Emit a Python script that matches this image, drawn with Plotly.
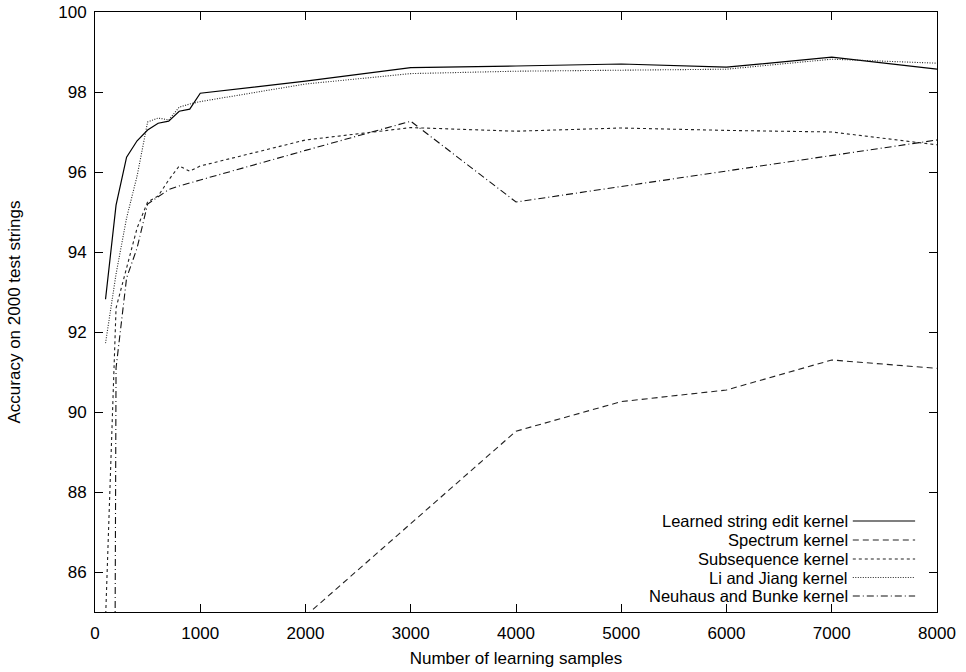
import plotly.graph_objects as go

samples = [100, 200, 300, 400, 500, 600, 700, 800, 900, 1000,
           2000, 3000, 4000, 5000, 6000, 7000, 8000]

learned = [92.82, 95.17, 96.37, 96.78, 97.05, 97.22, 97.27, 97.52, 97.57, 97.97,
           98.27, 98.61, 98.65, 98.70, 98.62, 98.87, 98.57]
spectrum = [None, None, None, None, None, None, None, None, None, None,
            84.9, 87.2, 89.52, 90.26, 90.55, 91.3, 91.09]
subsequence = [84.8, 92.6, 93.6, 94.6, 95.25, 95.4, 95.8, 96.15, 96.02, 96.15,
               96.8, 97.11, 97.02, 97.1, 97.04, 97.0, 96.68]
li_jiang = [91.72, 93.45, 94.85, 95.9, 97.25, 97.35, 97.3, 97.62, 97.7, 97.76,
            98.2, 98.46, 98.52, 98.55, 98.57, 98.82, 98.72]
neuhaus = [20.0, 91.1, 93.35, 94.1, 95.2, 95.38, 95.56, 95.65, 95.72, 95.8,
           96.54, 97.27, 95.25, 95.64, 96.03, 96.42, 96.8]

names = ["Learned string edit kernel", "Spectrum kernel", "Subsequence kernel",
         "Li and Jiang kernel", "Neuhaus and Bunke kernel"]
series = [learned, spectrum, subsequence, li_jiang, neuhaus]
dashes = ["solid", "6px,4px", "3px,3px", "1px,1.5px", "7px,3px,1px,3px"]
colors = ["#000000", "#222222", "#222222", "#222222", "#111111"]
widths = [1.2, 1.1, 1.1, 1.1, 1.1]

x_ticks = [0, 1000, 2000, 3000, 4000, 5000, 6000, 7000, 8000]
y_ticks = [86, 88, 90, 92, 94, 96, 98, 100]

FONT = "Liberation Sans, Arial, sans-serif"
FS = 17
KEY_FS = 16.5

fig = go.Figure()
for name, vals, d, c, w in zip(names, series, dashes, colors, widths):
    fig.add_trace(go.Scatter(x=samples, y=vals, mode="lines", name=name,
                             line=dict(color=c, dash=d, width=w),
                             showlegend=False))

# gnuplot-style key: right-aligned text with line sample on the right
row_y = [0.1517, 0.12, 0.0883, 0.0575, 0.0267]
annotations = []
shapes = []
for name, d, c, w, yy in zip(names, dashes, colors, widths, row_y):
    annotations.append(dict(xref="paper", yref="paper", x=0.895, y=yy,
                            text=name, showarrow=False, xanchor="right",
                            yanchor="middle", borderpad=0,
                            font=dict(size=KEY_FS, color="black", family=FONT)))
    shapes.append(dict(type="line", xref="paper", yref="paper",
                       x0=0.9, x1=0.974, y0=yy, y1=yy,
                       line=dict(color=c, dash=d, width=w)))

# plot area spans 95..937 x 12..612 of the 966x672 page
fig.update_layout(
    width=966, height=672,
    margin=dict(l=95, r=29, t=12, b=60),
    plot_bgcolor="white", paper_bgcolor="white",
    font=dict(family=FONT, size=FS, color="black"),
    annotations=annotations, shapes=shapes,
)
fig.update_xaxes(range=[0, 8000], tickvals=x_ticks, ticks="inside", ticklen=8,
                 tickcolor="black", showline=True, linecolor="black", linewidth=1,
                 mirror="allticks", showgrid=False, zeroline=False,
                 automargin=False, ticklabelstandoff=6, ticklabeloverflow="allow",
                 title=dict(text="Number of learning samples", standoff=9,
                            font=dict(size=FS)))
fig.update_yaxes(range=[85, 100], tickvals=y_ticks, ticks="inside", ticklen=8,
                 tickcolor="black", showline=True, linecolor="black", linewidth=1,
                 mirror="allticks", showgrid=False, zeroline=False,
                 automargin=False, ticklabelstandoff=4, ticklabeloverflow="allow",
                 title=dict(text="Accuracy on 2000 test strings", standoff=33,
                            font=dict(size=FS)))

# remove the browser's default 8px body margin so the figure fills the window
fig.write_html("out.html", config={"displayModeBar": False},
               post_script="document.body.style.margin='0px';")
